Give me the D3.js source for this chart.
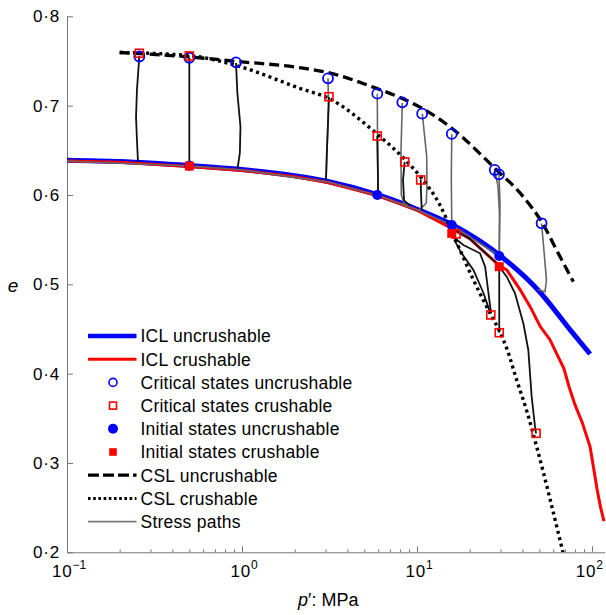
<!DOCTYPE html>
<html><head><meta charset="utf-8">
<script src="https://cdn.jsdelivr.net/npm/d3@7"></script>
<style>
body{margin:0;background:#fff;}
text{font-family:"Liberation Sans",Arial,sans-serif;fill:#000;}
</style></head>
<body><svg id="c" width="606" height="615"></svg>
<script>
// ---- data (p' in MPa, e) ----
const xMajorTicks = [0.1, 1, 10, 100];
const xMajorLabels = ["\u22121", "0", "1", "2"];
const yTicks = [0.2, 0.3, 0.4, 0.5, 0.6, 0.7, 0.8];

const iclUncrushable = [[0.1,0.639],[0.2,0.6375],[0.5,0.633],[1,0.6285],[2,0.6215],[3.1,0.615],[6,0.600],[10,0.584],[16,0.5664],[30,0.5317],[50,0.492],[75,0.449],[97.5,0.422]];
const iclCrushable = [[0.1,0.638],[0.2,0.6365],[0.5,0.632],[1,0.6275],[2,0.6205],[3.1,0.614],[6,0.599],[10,0.583],[16,0.562],[20,0.551],[30,0.5197],[32.6,0.516],[38.8,0.494],[44.3,0.475],[50.5,0.453],[57.5,0.438],[64,0.419],[69,0.406],[74,0.385],[80,0.365],[88,0.345],[97.5,0.318],[103,0.29],[107,0.27],[112,0.25],[117,0.235]];
const cslUncrushable = [[0.2,0.7595],[0.5,0.7545],[1,0.749],[2.23,0.742],[3.1,0.737],[5.93,0.719],[8.24,0.708],[10.7,0.697],[15.8,0.6747],[27.8,0.630],[40.5,0.598],[51.5,0.570],[65.6,0.531],[78.2,0.503]];
const cslCrushable = [[0.2,0.7595],[0.5,0.756],[0.975,0.7436],[2.14,0.7194],[3.14,0.708],[5.93,0.668],[8.5,0.640],[10.5,0.620],[13.5,0.589],[16,0.557],[21,0.505],[26.4,0.466],[29.7,0.447],[32.6,0.428],[37.1,0.393],[42.7,0.356],[48.3,0.318],[68.2,0.2]];

const critUncrushable = [[0.259,0.755],[0.5,0.7536],[0.924,0.7485],[3.10,0.7306],[5.93,0.7134],[8.24,0.7037],[10.7,0.691],[15.8,0.6683],[27.8,0.628],[29.4,0.6231],[51.5,0.5683]];
const critCrushable = [[0.259,0.7586],[0.5,0.7556],[3.14,0.710],[5.93,0.666],[8.51,0.637],[10.5,0.6168],[16.7,0.5563],[26.4,0.4657],[29.5,0.4458],[47.9,0.3332]];
const initUncrushable = [[0.5,0.6328],[5.93,0.600],[15.8,0.5664],[29.5,0.5317]];
const initCrushable = [[0.5,0.6324],[15.8,0.557],[29.5,0.5197]];

// stress paths: uncrushable (grey) and crushable (black)
const pathsUncrushable = [
  [[3.10,0.7306],[3.12,0.70],[3.06,0.65],[3.02,0.617]],
  [[5.93,0.7134],[5.95,0.65],[6.0,0.600]],
  [[8.24,0.703],[8.10,0.650],[8.13,0.600],[8.4,0.591],[9.0,0.588]],
  [[10.72,0.691],[11.36,0.643],[11.4,0.611],[11.3,0.591],[10.3,0.583]],
  [[15.8,0.668],[15.7,0.62],[15.8,0.566]],
  [[29.5,0.5317],[29.6,0.58],[29.0,0.61],[27.8,0.628]],
  [[29.5,0.5317],[29.8,0.59],[29.4,0.623]],
  [[49,0.494],[53.9,0.4917],[54.9,0.505],[52.9,0.542],[51.5,0.568]],
  [[0.1,0.638],[0.5,0.6325],[1,0.628],[3.1,0.6145],[6,0.5995],[10,0.5835],[16,0.5655],[30,0.531]]
];
const pathsCrushable = [
  [[0.259,0.7556],[0.251,0.7175],[0.248,0.687],[0.251,0.6615],[0.2545,0.637]],
  [[0.5,0.7536],[0.5,0.6328]],
  [[0.924,0.7477],[0.941,0.7138],[0.98,0.6764],[0.972,0.647],[0.944,0.630]],
  [[3.14,0.7097],[3.10,0.68],[3.05,0.645],[3.02,0.6168]],
  [[5.93,0.666],[5.97,0.63],[6.0,0.600]],
  [[8.5,0.637],[8.32,0.617],[8.43,0.594],[9.12,0.588]],
  [[10.5,0.617],[10.55,0.60],[10.64,0.583]],
  [[16.1,0.553],[18.4,0.544],[22.9,0.5347],[24.5,0.5197],[25.9,0.4824],[26.5,0.4675]],
  [[16.3,0.550],[17.8,0.536],[21.0,0.516],[24.0,0.490],[26.0,0.470]],
  [[29.5,0.5197],[29.5,0.48],[29.5,0.4458]],
  [[29.5,0.5197],[32.55,0.5085],[36.3,0.4899],[40.5,0.4564],[43.25,0.4265],[45.2,0.3742],[47.24,0.3406],[47.9,0.3332]],
  [[16,0.562],[20,0.551],[30,0.5197]]
];

const legendLabels = ["ICL uncrushable","ICL crushable","Critical states uncrushable","Critical states crushable","Initial states uncrushable","Initial states crushable","CSL uncrushable","CSL crushable","Stress paths"];

// ---- layout ----
const svg = d3.select("#c");
const L = 67, R = 604.6, T = 16.3, B = 552.3;
const x = d3.scaleLog().domain([0.1, 118]).range([L, R]);
const y = d3.scaleLinear().domain([0.2, 0.8]).range([B, T]);
const BLUE = "#0000ff", RED = "#ff0000";

const clipId = "plotclip";
svg.append("clipPath").attr("id", clipId).append("rect").attr("x", L).attr("y", T - 10).attr("width", R - L + 2).attr("height", B - T + 10);

// axes
const gx = svg.append("g").attr("transform", `translate(0,${B})`);
const minor = [];
for (let d = 0.1; d < 100; d *= 10) for (let k = 2; k <= 9; k++) { const v = d * k; if (v <= 118) minor.push(+v.toPrecision(3)); }
gx.call(d3.axisBottom(x).tickValues(minor).tickSizeInner(-3).tickSizeOuter(0).tickFormat(""));
gx.call(g => g.select(".domain").remove());
const gx2 = svg.append("g").attr("transform", `translate(0,${B})`);
gx2.call(d3.axisBottom(x).tickValues(xMajorTicks).tickSizeInner(-6).tickSizeOuter(0).tickFormat(""));
svg.selectAll(".tick line").attr("stroke", "#777");
svg.selectAll(".domain").attr("stroke", "#777");
const xl = svg.append("g").selectAll("text").data(xMajorTicks).join("text")
  .attr("x", (d, i) => i === xMajorTicks.length - 1 ? 603 : x(d) + 2)
  .attr("y", B + 24.5)
  .attr("text-anchor", (d, i) => i === xMajorTicks.length - 1 ? "end" : "middle")
  .attr("font-size", 17);
xl.append("tspan").style("letter-spacing", "0.8px").text("10");
xl.append("tspan").attr("dy", -8).attr("font-size", 12).text((d, i) => xMajorLabels[i]);

const gy = svg.append("g").attr("transform", `translate(${L},0)`);
gy.call(d3.axisLeft(y).tickValues(yTicks).tickSizeInner(-6).tickSizeOuter(0).tickPadding(7)
  .tickFormat(d => d3.format(".1f")(d).replace(".", "\u00b7")));
gy.selectAll(".tick line").attr("stroke", "#777");
gy.select(".domain").attr("stroke", "#777");
gy.selectAll("text").attr("font-size", 17).style("letter-spacing", "0.8px").attr("font-family", "Liberation Sans, Arial, sans-serif");

svg.append("text").attr("x", 13).attr("y", 292).attr("text-anchor", "middle").attr("font-size", 19).attr("font-style", "italic").text("e");
const xt = svg.append("text").attr("x", 298).attr("y", 606).attr("font-size", 18);
xt.append("tspan").attr("font-style", "italic").text("p");
xt.append("tspan").text("\u2032: MPa");

// lines
const line = d3.line().x(d => x(d[0])).y(d => y(d[1]));
const smooth = d3.line().x(d => x(d[0])).y(d => y(d[1])).curve(d3.curveMonotoneX);
const plot = svg.append("g").attr("clip-path", `url(#${clipId})`);

plot.append("path").attr("d", smooth(iclUncrushable)).attr("fill", "none").attr("stroke", BLUE).attr("stroke-width", 5);
plot.append("path").attr("d", line(iclCrushable)).attr("fill", "none").attr("stroke", RED).attr("stroke-width", 3);

plot.selectAll(".pu").data(pathsUncrushable).join("path").attr("class", "pu")
  .attr("d", d => line(d)).attr("fill", "none").attr("stroke", "#666").attr("stroke-width", 1.6);
plot.selectAll(".pc").data(pathsCrushable).join("path").attr("class", "pc")
  .attr("d", d => line(d)).attr("fill", "none").attr("stroke", "#111").attr("stroke-width", 1.8);

plot.append("path").attr("d", smooth(cslUncrushable)).attr("fill", "none").attr("stroke", "#000").attr("stroke-width", 3.3).attr("stroke-dasharray", "10,5");
plot.append("path").attr("d", smooth(cslCrushable)).attr("fill", "none").attr("stroke", "#000").attr("stroke-width", 3.4).attr("stroke-dasharray", "3,3.6");

// markers
plot.selectAll(".cu").data(critUncrushable).join("circle").attr("class", "cu")
  .attr("cx", d => x(d[0])).attr("cy", d => y(d[1])).attr("r", 5).attr("fill", "none").attr("stroke", BLUE).attr("stroke-width", 1.8);
plot.selectAll(".cc").data(critCrushable).join("rect").attr("class", "cc")
  .attr("x", d => x(d[0]) - 4).attr("y", d => y(d[1]) - 4).attr("width", 8).attr("height", 8).attr("fill", "none").attr("stroke", RED).attr("stroke-width", 1.6);
plot.selectAll(".iu").data(initUncrushable).join("circle").attr("class", "iu")
  .attr("cx", d => x(d[0])).attr("cy", d => y(d[1])).attr("r", 5).attr("fill", BLUE);
plot.selectAll(".ic").data(initCrushable).join("rect").attr("class", "ic")
  .attr("x", d => x(d[0]) - 4.5).attr("y", d => y(d[1]) - 4.5).attr("width", 9).attr("height", 9).attr("fill", RED);

// legend
const lg = svg.append("g");
const ly = i => 336 + i * 23.2;
const lx0 = 88, lx1 = 136.5, mx = 113;
lg.append("line").attr("x1", lx0).attr("x2", lx1).attr("y1", ly(0)).attr("y2", ly(0)).attr("stroke", BLUE).attr("stroke-width", 4.5);
lg.append("line").attr("x1", lx0).attr("x2", lx1).attr("y1", ly(1)).attr("y2", ly(1)).attr("stroke", RED).attr("stroke-width", 3);
lg.append("circle").attr("cx", mx).attr("cy", ly(2)).attr("r", 4).attr("fill", "none").attr("stroke", BLUE).attr("stroke-width", 1.6);
lg.append("rect").attr("x", mx - 3.5).attr("y", ly(3) - 3.5).attr("width", 7).attr("height", 7).attr("fill", "none").attr("stroke", RED).attr("stroke-width", 1.6);
lg.append("circle").attr("cx", mx).attr("cy", ly(4)).attr("r", 5).attr("fill", BLUE);
lg.append("rect").attr("x", mx - 3.8).attr("y", ly(5) - 3.8).attr("width", 7.6).attr("height", 7.6).attr("fill", RED);
lg.append("line").attr("x1", lx0).attr("x2", lx1).attr("y1", ly(6)).attr("y2", ly(6)).attr("stroke", "#000").attr("stroke-width", 3.2).attr("stroke-dasharray", "11,4");
lg.append("line").attr("x1", lx0).attr("x2", lx1).attr("y1", ly(7)).attr("y2", ly(7)).attr("stroke", "#000").attr("stroke-width", 3).attr("stroke-dasharray", "2.6,2.6");
lg.append("line").attr("x1", lx0).attr("x2", lx1).attr("y1", ly(8)).attr("y2", ly(8)).attr("stroke", "#777").attr("stroke-width", 1.6);
lg.selectAll("text").data(legendLabels).join("text")
  .attr("x", 140.5).attr("y", (d, i) => ly(i)).attr("dy", "0.36em").attr("font-size", 17.5).style("letter-spacing", "0.25px").text(d => d);
</script></body></html>
